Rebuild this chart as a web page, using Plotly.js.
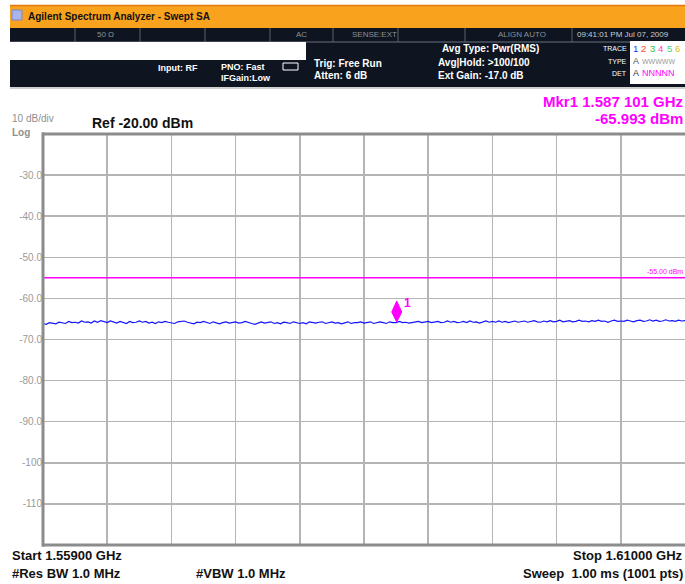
<!DOCTYPE html>
<html>
<head>
<meta charset="utf-8">
<script src="https://cdn.plot.ly/plotly-3.0.1.min.js"></script>
<style>html,body{margin:0;padding:0;background:#fff}#chart{width:685px;height:584px}</style>
</head>
<body>
<div id="chart"></div>
<script>
// ---- data ----
const START_GHZ = 1.559;
const STOP_GHZ = 1.610;
const REF_DBM = -20;
const DB_PER_DIV = 10;
const DISPLAY_LINE_DBM = -55;
const MKR_FREQ_GHZ = 1.587101;
const MKR_DBM = -65.993;
const yTickVals = [-30, -40, -50, -60, -70, -80, -90, -100, -110];
const yTickText = ['-30.0', '-40.0', '-50.0', '-60.0', '-70.0', '-80.0', '-90.0', '-100', '-110'];
const traceDbm = [
  -66.1,-66.3,-65.9,-66.0,-66.2,-65.8,-65.9,-66.1,-65.6,-65.9,
  -65.8,-66.0,-65.5,-65.8,-65.7,-66.0,-65.5,-65.8,-65.4,-65.7,
  -65.9,-65.5,-65.8,-66.0,-65.6,-65.8,-66.1,-65.6,-65.9,-65.8,
  -65.5,-65.8,-65.6,-66.0,-65.8,-66.1,-65.7,-65.9,-65.6,-65.8,
  -65.9,-66.1,-65.7,-65.6,-65.5,-65.8,-66.0,-66.2,-65.8,-65.9,
  -65.6,-65.9,-66.1,-65.7,-65.9,-66.2,-65.9,-65.7,-66.0,-65.9,
  -65.7,-66.0,-65.9,-65.6,-65.9,-66.1,-66.3,-65.9,-65.7,-66.0,
  -65.9,-65.7,-66.1,-65.9,-66.2,-65.8,-65.9,-66.1,-65.7,-65.9,
  -66.1,-65.9,-66.2,-65.7,-65.9,-66.0,-65.8,-65.7,-66.1,-65.9,
  -65.7,-66.0,-65.9,-66.2,-65.9,-65.7,-66.1,-65.9,-65.9,-65.7,
  -66.0,-65.9,-65.7,-66.1,-65.9,-65.7,-65.9,-66.1,-65.7,-65.9,
  -65.9,-65.6,-65.9,-65.8,-66.0,-65.9,-65.7,-65.6,-65.9,-65.8,
  -65.6,-65.9,-65.8,-65.6,-65.9,-65.8,-65.5,-65.8,-65.6,-65.9,
  -65.8,-65.6,-65.9,-65.5,-65.8,-65.7,-66.0,-65.8,-65.5,-65.8,
  -65.6,-65.8,-65.5,-65.8,-65.6,-65.9,-65.7,-65.5,-65.8,-65.7,
  -65.5,-65.8,-65.6,-65.4,-65.7,-65.8,-65.5,-65.7,-65.4,-65.7,
  -65.6,-65.3,-65.7,-65.6,-65.4,-65.7,-65.6,-65.3,-65.6,-65.5,
  -65.7,-65.4,-65.6,-65.3,-65.6,-65.5,-65.8,-65.5,-65.3,-65.6,
  -65.5,-65.6,-65.3,-65.5,-65.7,-65.4,-65.3,-65.6,-65.5,-65.2,
  -65.5,-65.3,-65.6,-65.5,-65.2,-65.5,-65.4,-65.6,-65.3,-65.5,
  -65.4
];
const traceFreq = traceDbm.map((_, i) => START_GHZ + (STOP_GHZ - START_GHZ) * i / (traceDbm.length - 1));

// ---- layout helpers (pixel -> paper) ----
const L = 43, R = 685, T = 134, B = 545, W = 685, H = 584;
const PX = x => (x - L) / (R - L);
const PY = y => (B - y) / (B - T);
const MAG = '#ff00ff';
const FONT = 'Liberation Sans, Arial, sans-serif';

const shapes = [];
const ann = [];
function rect(x0, y0, x1, y1, fill, lineColor, lw) {
  shapes.push({type: 'rect', xref: 'paper', yref: 'paper', x0: PX(x0), x1: PX(x1), y0: PY(y1), y1: PY(y0),
    fillcolor: fill, line: {color: lineColor || fill, width: lw || 0}, layer: 'above'});
}
function vline(x, y0, y1, color, w) {
  shapes.push({type: 'line', xref: 'paper', yref: 'paper', x0: PX(x), x1: PX(x), y0: PY(y0), y1: PY(y1),
    line: {color: color, width: w}, layer: 'above'});
}
function hline(x0, x1, y, color, w) {
  shapes.push({type: 'line', xref: 'paper', yref: 'paper', x0: PX(x0), x1: PX(x1), y0: PY(y), y1: PY(y),
    line: {color: color, width: w}, layer: 'above'});
}
function txt(x, y, s, size, color, xanchor, bold, family) {
  ann.push({xref: 'paper', yref: 'paper', x: PX(x), y: PY(y), text: bold ? '<b>' + s + '</b>' : s,
    showarrow: false, xanchor: xanchor || 'left', yanchor: 'middle',
    font: {size: size, color: color, family: family || FONT}, borderpad: 0});
}

// header
rect(10, 5, 685, 28, '#f8a21e');
hline(10, 685, 5.5, '#e27a10', 1.5);
rect(12, 10, 22, 20, '#aab4e8', '#7a86c8', 1);
txt(27, 16.5, 'Agilent Spectrum Analyzer - Swept SA', 10, '#111', 'left', true);
rect(10, 28, 685, 87, '#0e1521');
hline(10, 685, 42, '#6b7280', 1);
[75, 140, 205, 270, 333, 398, 465, 572].forEach(x => vline(x, 28, 42, '#5a6270', 1));
txt(105, 35, '50 Ω', 8, '#8a909a', 'center');
txt(301, 35, 'AC', 8, '#8a909a', 'center');
txt(374, 35, 'SENSE:EXT', 8, '#8a909a', 'center');
txt(522, 35, 'ALIGN AUTO', 8, '#8a909a', 'center');
txt(576, 35, '09:41:01 PM Jul 07, 2009', 8, '#c8ccd2', 'left');
rect(10, 42, 306, 60, '#ffffff');
txt(157, 68, 'Input: RF', 9, '#ffffff', 'left', true);
txt(220, 67, 'PNO: Fast', 9, '#ffffff', 'left', true);
txt(220, 78, 'IFGain:Low', 9, '#ffffff', 'left', true);
rect(283, 63, 298, 70, 'rgba(0,0,0,0)', '#ffffff', 1);
txt(313, 63, 'Trig: Free Run', 10, '#ffffff', 'left', true);
txt(313, 76, 'Atten: 6 dB', 10, '#ffffff', 'left', true);
txt(441, 49, 'Avg Type: Pwr(RMS)', 10, '#ffffff', 'left', true);
txt(437, 62, 'Avg|Hold: >100/100', 10, '#ffffff', 'left', true);
txt(437, 75, 'Ext Gain: -17.0 dB', 10, '#ffffff', 'left', true);
txt(628, 48, 'TRACE', 7, '#ffffff', 'right');
txt(628, 61, 'TYPE', 7, '#ffffff', 'right');
txt(628, 73, 'DET', 7, '#ffffff', 'right');
rect(630, 41, 685, 84, '#ffffff');
const tc = ['#2030ff', '#ff4040', '#30c030', '#ff40c0', '#40d080', '#e0c000'];
tc.forEach((c, i) => txt(632 + i * 8.4, 48, String(i + 1), 9.5, c, 'left'));
txt(632, 61, 'A', 9, '#555', 'left');
txt(641, 61, 'WWWWW', 7, '#999', 'left');
txt(632, 73, 'A', 9, '#333', 'left');
txt(641, 73, 'NNNNN', 9, MAG, 'left');
rect(10, 87, 685, 89, '#d0d0d0');

// display texts
txt(11, 119, '10 dB/div', 10, '#8f8f8f', 'left');
txt(11, 133, 'Log', 10, '#8f8f8f', 'left', true);
txt(91, 123, 'Ref -20.00 dBm', 14, '#111', 'left', true);
txt(684, 101, 'Mkr1 1.587 101 GHz', 15, MAG, 'right', true);
txt(684, 118, '-65.993 dBm', 15, MAG, 'right', true);
txt(11, 555, 'Start 1.55900 GHz', 13, '#111', 'left', true);
txt(11, 573, '#Res BW 1.0 MHz', 13, '#111', 'left', true);
txt(195, 573, '#VBW 1.0 MHz', 13, '#111', 'left', true);
txt(684, 555, 'Stop 1.61000 GHz', 13, '#111', 'right', true);
txt(684, 573, 'Sweep  1.00 ms (1001 pts)', 13, '#111', 'right', true);

// display line and its label
shapes.push({type: 'line', xref: 'paper', yref: 'y', x0: 0, x1: 1, y0: DISPLAY_LINE_DBM, y1: DISPLAY_LINE_DBM,
  line: {color: MAG, width: 1.5}, layer: 'above'});
ann.push({xref: 'paper', yref: 'y', x: 1, y: DISPLAY_LINE_DBM, yshift: 6, xanchor: 'right', yanchor: 'middle',
  text: '-55.00 dBm', showarrow: false, font: {size: 7, color: MAG, family: FONT}});

// marker diamond
shapes.push({type: 'path', xref: 'x', yref: 'y', xsizemode: 'pixel', ysizemode: 'pixel',
  xanchor: MKR_FREQ_GHZ, yanchor: MKR_DBM, path: 'M0,1 L5,11 L0,22 L-5,11 Z',
  fillcolor: MAG, line: {color: MAG, width: 1}, layer: 'above'});
ann.push({xref: 'x', yref: 'y', x: MKR_FREQ_GHZ, y: MKR_DBM, xshift: 11, yshift: 20, text: '<b>1</b>', showarrow: false,
  font: {size: 12, color: MAG, family: FONT}});

// frame
shapes.push({type: 'line', xref: 'paper', yref: 'paper', x0: 0, x1: 0, y0: -0.004, y1: 1.004, line: {color: '#8c8c8c', width: 3}, layer: 'above'});
shapes.push({type: 'line', xref: 'paper', yref: 'paper', x0: 0, x1: 1, y0: 1, y1: 1, line: {color: '#8c8c8c', width: 3}, layer: 'above'});
shapes.push({type: 'line', xref: 'paper', yref: 'paper', x0: 0, x1: 1, y0: 0, y1: 0, line: {color: '#8c8c8c', width: 3}, layer: 'above'});

const data = [{
  type: 'scatter', mode: 'lines', x: traceFreq, y: traceDbm,
  line: {color: '#1414ff', width: 1.2}, hoverinfo: 'skip'
}];

const layout = {
  width: W, height: H,
  margin: {l: L, r: W - R, t: T, b: H - B, pad: 0},
  paper_bgcolor: '#ffffff', plot_bgcolor: '#ffffff',
  showlegend: false,
  xaxis: {range: [START_GHZ, STOP_GHZ], tick0: START_GHZ, dtick: (STOP_GHZ - START_GHZ) / 10, showticklabels: false,
    showgrid: true, gridcolor: '#b4b4b4', gridwidth: 1.5, zeroline: false, showline: false, ticks: ''},
  yaxis: {range: [REF_DBM - 10 * DB_PER_DIV, REF_DBM], tickvals: yTickVals, ticktext: yTickText,
    showgrid: true, gridcolor: '#b4b4b4', gridwidth: 1.5, zeroline: false, showline: false, ticks: '',
    tickfont: {size: 10, color: '#9a9a9a', family: FONT}},
  shapes: shapes,
  annotations: ann
};

Plotly.newPlot('chart', data, layout, {displayModeBar: false, staticPlot: true});
</script>
</body>
</html>
